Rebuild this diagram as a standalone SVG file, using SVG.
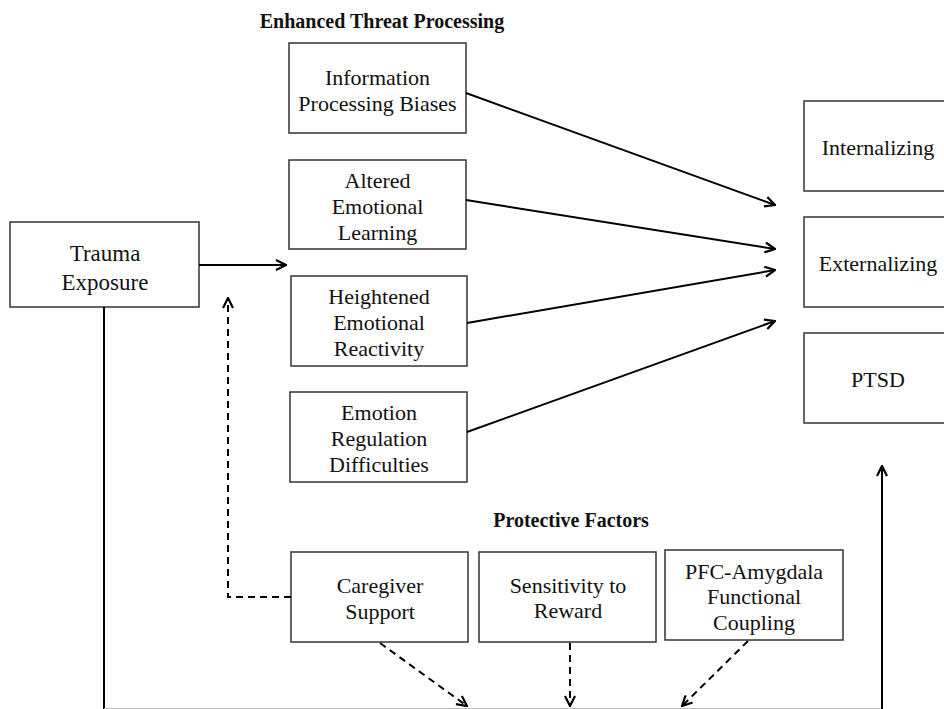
<svg xmlns="http://www.w3.org/2000/svg" width="944" height="709" viewBox="0 0 944 709">
<style>
.box{fill:#fff;stroke:#333;stroke-width:1.5}
.t{font-family:"Liberation Serif",serif;font-size:22px;fill:#111;text-anchor:middle}
.h{font-family:"Liberation Serif",serif;font-size:20px;font-weight:bold;fill:#111;text-anchor:middle}
.ln{fill:none;stroke:#000;stroke-width:2}
.dl{fill:none;stroke:#000;stroke-width:2;stroke-dasharray:7,5}
</style>
<defs>
<marker id="ah" viewBox="0 0 12 12" refX="11" refY="6" markerWidth="12" markerHeight="12" markerUnits="userSpaceOnUse" orient="auto">
<path d="M1,1 L11,6 L1,11" fill="none" stroke="#000" stroke-width="2.2"/>
</marker>
</defs>
<rect width="944" height="709" fill="#fff"/>
<text class="h" x="382" y="28">Enhanced Threat Processing</text>
<text class="h" x="571" y="527">Protective Factors</text>
<g id="trauma"><rect class="box" x="10" y="222" width="189" height="85"/><text class="t" x="105" y="261" style="font-size:23px">Trauma</text><text class="t" x="105" y="290" style="font-size:23px">Exposure</text></g>
<g id="info"><rect class="box" x="289" y="43" width="177" height="90"/><text class="t" x="377.5" y="85">Information</text><text class="t" x="377.5" y="111">Processing Biases</text></g>
<g id="altered"><rect class="box" x="289" y="160" width="177" height="89"/><text class="t" x="377.5" y="188">Altered</text><text class="t" x="377.5" y="214">Emotional</text><text class="t" x="377.5" y="240">Learning</text></g>
<g id="heightened"><rect class="box" x="291" y="276" width="176" height="90"/><text class="t" x="379" y="304">Heightened</text><text class="t" x="379" y="330">Emotional</text><text class="t" x="379" y="356">Reactivity</text></g>
<g id="regulation"><rect class="box" x="290" y="392" width="177" height="90"/><text class="t" x="379" y="420">Emotion</text><text class="t" x="379" y="446">Regulation</text><text class="t" x="379" y="472">Difficulties</text></g>
<g id="caregiver"><rect class="box" x="291" y="552" width="177" height="90"/><text class="t" x="380" y="593">Caregiver</text><text class="t" x="380" y="619">Support</text></g>
<g id="sensitivity"><rect class="box" x="479" y="552" width="177" height="90"/><text class="t" x="568" y="593">Sensitivity to</text><text class="t" x="568" y="618">Reward</text></g>
<g id="pfc"><rect class="box" x="665" y="550" width="178" height="90"/><text class="t" x="754" y="579">PFC-Amygdala</text><text class="t" x="754" y="604">Functional</text><text class="t" x="754" y="630">Coupling</text></g>
<g id="internalizing"><rect class="box" x="804" y="101" width="150" height="90"/><text class="t" x="878" y="155">Internalizing</text></g>
<g id="externalizing"><rect class="box" x="804" y="217" width="150" height="90"/><text class="t" x="878" y="271">Externalizing</text></g>
<g id="ptsd"><rect class="box" x="804" y="333" width="150" height="90"/><text class="t" x="878" y="387">PTSD</text></g>
<g id="connectors">
<line class="ln" x1="199" y1="265" x2="286" y2="265" marker-end="url(#ah)"/>
<line class="ln" x1="466" y1="93" x2="775" y2="205" marker-end="url(#ah)"/>
<line class="ln" x1="466" y1="200" x2="775" y2="249" marker-end="url(#ah)"/>
<line class="ln" x1="467" y1="323" x2="775" y2="270" marker-end="url(#ah)"/>
<line class="ln" x1="467" y1="432" x2="775" y2="321" marker-end="url(#ah)"/>
<polyline class="dl" points="291,597 228,597 228,298" marker-end="url(#ah)"/>
<line class="dl" x1="380" y1="643" x2="467" y2="706" marker-end="url(#ah)"/>
<line class="dl" x1="570" y1="643" x2="570" y2="706" marker-end="url(#ah)"/>
<line class="dl" x1="748" y1="641" x2="682" y2="706" marker-end="url(#ah)"/>
<line class="ln" x1="104" y1="307" x2="104" y2="709"/>
<line x1="104" y1="708.5" x2="882" y2="708.5" stroke="#bbb" stroke-width="1"/>
<line class="ln" x1="882" y1="709" x2="882" y2="466" marker-end="url(#ah)"/>
</g>
</svg>
